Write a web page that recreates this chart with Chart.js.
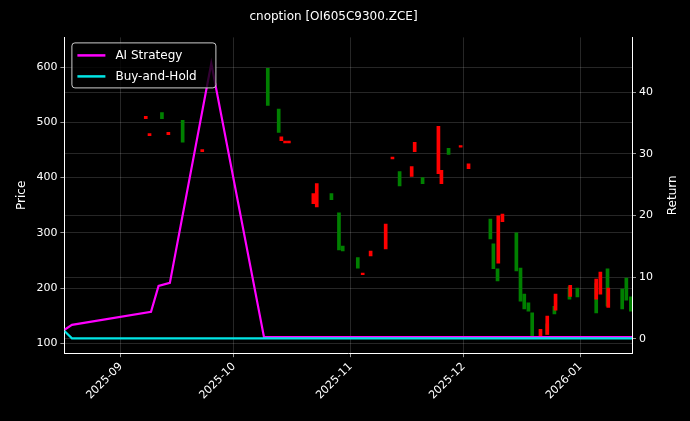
<!DOCTYPE html>
<html><head><meta charset="utf-8">
<script src="https://cdn.jsdelivr.net/npm/chart.js@4"></script>
<style>html,body{margin:0;background:#000}#w{width:690px;height:421px}</style>
</head><body><div id="w"><canvas id="c"></canvas></div>
<script>
// days counted from 2025-08-17
const tickDays = [15, 45, 76, 106, 137];
const tickLabels = ['2025-09', '2025-10', '2025-11', '2025-12', '2026-01'];
// candles: [day, open, close]
const upDays   = [22, 23, 28, 37, 58, 59, 60, 66.5, 67.4, 79.6, 81.7, 85.7, 87.5, 92.6, 93.4, 99.7, 100.5, 105.6, 107.7, 115.6, 116.7, 126.8, 128.6, 130.8, 134.7, 141.6, 142.7, 144.8];
const upLow    = [507, 476, 478, 447, 467, 463, 463, 353, 347, 224, 258, 271, 434, 402, 447, 407, 389, 455, 416, 245, 320, 113, 116, 160, 185, 180, 189, 165];
const upHigh   = [511, 480, 482, 451, 474, 466, 466, 371, 389, 227, 267, 316, 437, 420, 464, 493, 413, 458, 425, 331, 334, 125, 149, 189, 205, 216, 229, 200];
const downDays = [25.5, 31, 53.6, 56.5, 70.5, 72.5, 73.5, 77.5, 88.6, 94.7, 101.6, 112.7, 113.5, 114.6, 119.6, 120.7, 121.7, 122.8, 123.8, 127.8, 129.7, 133.7, 135.8, 140.8, 143.8, 147.7, 148.8, 150];
const downLow  = [507, 464, 531, 482, 360, 269, 267, 236, 385, 389, 442, 289, 235, 213, 231, 176, 162, 158, 113, 116, 153, 180, 184, 155, 167, 162, 178, 158];
const downHigh = [518, 504, 598, 524, 371, 336, 276, 255, 411, 400, 453, 325, 280, 235, 300, 236, 189, 173, 155, 135, 167, 202, 200, 209, 235, 198, 218, 184];
const aiDays = [0, 2, 23, 25, 28, 39, 53, 150.7];
const aiReturn = [1.5, 2.3, 4.4, 8.6, 9.1, 44.7, 0.3, 0.3];
const bhDays = [0, 2, 150.7];
const bhReturn = [1.3, 0.1, 0.1];

const up = upDays.map((d,i)=>({x:d, y:[upLow[i], upHigh[i]]}));
const down = downDays.map((d,i)=>({x:d, y:[downLow[i], downHigh[i]]}));
const ai = aiDays.map((d,i)=>({x:d, y:aiReturn[i]}));
const bh = bhDays.map((d,i)=>({x:d, y:bhReturn[i]}));

const legendPlugin = {
  id:'lg',
  afterDraw(ch){
    const c = ch.ctx, a = ch.chartArea;
    const x = a.left+7, y = a.top+5, w = 144, h = 45;
    c.save();
    c.fillStyle='rgba(0,0,0,0.8)'; c.strokeStyle='#ccc'; c.lineWidth=1;
    c.beginPath(); c.roundRect(x+0.5,y+0.5,w,h,3); c.fill(); c.stroke();
    c.font='12px "DejaVu Sans"'; c.textBaseline='middle'; c.fillStyle='#fff';
    [['AI Strategy','#ff00ff'],['Buy-and-Hold','#00e5e5']].forEach((it,i)=>{
      const yy = y+13+i*21;
      c.strokeStyle=it[1]; c.lineWidth=2.5; c.beginPath(); c.moveTo(x+6,yy); c.lineTo(x+34,yy); c.stroke();
      c.fillStyle='#fff'; c.fillText(it[0], x+44, yy);
    });
    c.translate(a.right+41, (a.top+a.bottom)/2); c.rotate(-Math.PI/2);
    c.textAlign='center'; c.fillText('Return', 0, 0);
    c.restore();
  }
};
const grid = {color:'rgba(255,255,255,0.25)', lineWidth:0.6, borderDash:[3,3], drawTicks:true, tickColor:'#fff', tickLength:4};
new Chart(document.getElementById('c'), {
  data:{datasets:[
    {type:'bar', data:up, backgroundColor:'#ff0000', barThickness:3, yAxisID:'y', order:3},
    {type:'bar', data:down, backgroundColor:'#008000', barThickness:3, yAxisID:'y', order:3},
    {type:'line', data:ai, borderColor:'#ff00ff', borderWidth:2.2, pointRadius:0, yAxisID:'y2', order:1},
    {type:'line', data:bh, borderColor:'#00e5e5', borderWidth:2.2, pointRadius:0, yAxisID:'y2', order:0}
  ]},
  options:{
    responsive:true, maintainAspectRatio:false, animation:false,
    layout:{padding:{left:11,right:34,top:0,bottom:16}},
    plugins:{legend:{display:false}, tooltip:{enabled:false},
      title:{display:true, text:'cnoption [OI605C9300.ZCE]', color:'#fff', font:{family:'DejaVu Sans', size:12, weight:'normal'}, padding:{top:10,bottom:13}}},
    scales:{
      x:{type:'linear', offset:false, min:0, max:150.7, grid:{...grid, offset:false}, border:{color:'#fff'},
        afterBuildTicks(s){ s.ticks = tickDays.map(v=>({value:v})); },
        ticks:{color:'#fff', font:{family:'DejaVu Sans', size:11}, maxRotation:45, minRotation:45,
          callback:(v)=>tickLabels[tickDays.indexOf(v)] ?? ''}},
      y:{position:'left', min:82, max:654, grid:grid, border:{color:'#fff'},
        afterBuildTicks(s){ s.ticks=[100,200,300,400,500,600].map(v=>({value:v})); },
        ticks:{color:'#fff', font:{family:'DejaVu Sans', size:11}},
        title:{display:true, text:'Price', color:'#fff', font:{family:'DejaVu Sans', size:12}}},
      y2:{position:'right', min:-2.3, max:48.9, grid:grid, border:{color:'#fff'},
        afterBuildTicks(s){ s.ticks=[0,10,20,30,40].map(v=>({value:v})); },
        ticks:{color:'#fff', font:{family:'DejaVu Sans', size:11}}}
    }
  },
  plugins:[legendPlugin]
});
</script></body></html>
